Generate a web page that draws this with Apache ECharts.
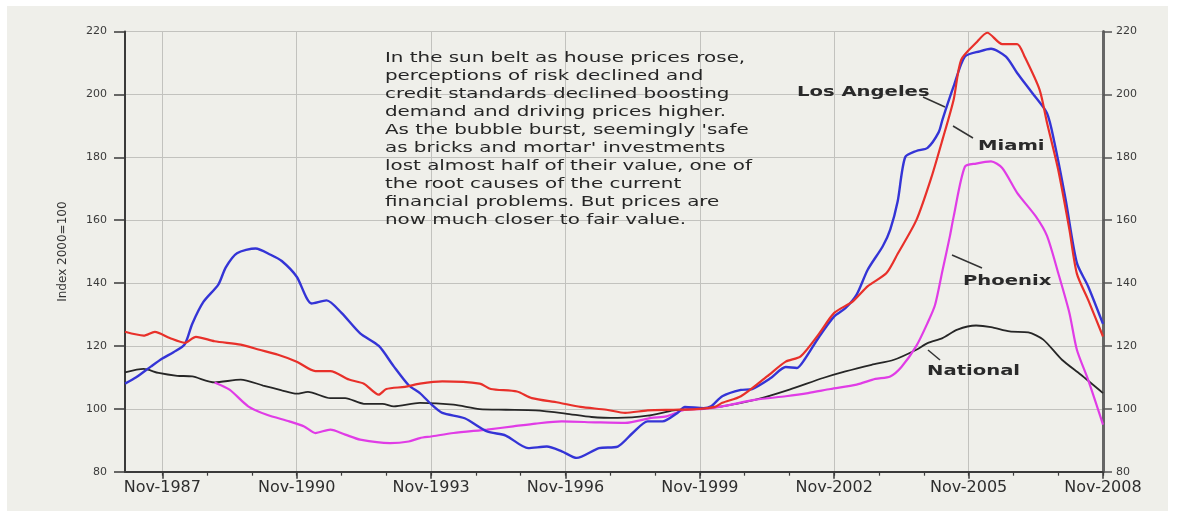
<!DOCTYPE html>
<html>
<head>
<meta charset="utf-8">
<script src="https://cdn.jsdelivr.net/npm/echarts@6/dist/echarts.min.js"></script>
<style>
html,body{margin:0;padding:0;background:#ffffff;}
#chart{width:1179px;height:515px;}
</style>
</head>
<body>
<div id="chart"></div>
<script>
// ---- tick labels ----
const xTickLabels = ['Nov-1987','Nov-1990','Nov-1993','Nov-1996','Nov-1999','Nov-2002','Nov-2005','Nov-2008'];
const yMin = 80, yMax = 220, yStep = 20;
const monthNames = ['Jan','Feb','Mar','Apr','May','Jun','Jul','Aug','Sep','Oct','Nov','Dec'];

// ---- categories: monthly, Jan-1987 .. Nov-2008 ----
const months = [];
for (let y = 1987; y <= 2008; y++) {
  for (let m = 1; m <= 12; m++) {
    if (y === 2008 && m > 11) break;
    months.push(y + '-' + String(m).padStart(2, '0'));
  }
}

// ---- series values (Index 2000=100) ----
const losAngeles = [
  ['1987-01',108],['1987-04',110],['1987-08',113.5],['1987-11',116],['1988-02',118],['1988-05',120.5],
  ['1988-07',127],['1988-10',134],['1989-02',139.5],['1989-04',145],['1989-07',149.5],['1989-12',151],
  ['1990-04',149],['1990-07',147],['1990-11',142],['1991-03',133.5],['1991-07',134.5],['1991-11',130.5],
  ['1992-04',124],['1992-09',120],['1993-01',113.5],['1993-05',107.5],['1993-08',105],['1993-11',101.5],
  ['1994-02',98.7],['1994-08',97],['1995-02',92.8],['1995-07',91.5],['1996-01',87.5],['1996-06',88],
  ['1996-10',86.5],['1997-02',84.4],['1997-08',87.5],['1998-01',88],['1998-05',92.3],['1998-09',96],
  ['1999-01',96],['1999-05',98.7],['1999-07',100.6],['1999-12',100.2],['2000-02',100.8],['2000-05',104],
  ['2000-10',106],['2001-01',106.3],['2001-06',109.8],['2001-10',113.3],['2002-01',113],['2002-03',115.6],
  ['2002-07',123],['2002-11',129.4],['2003-02',132],['2003-05',136.3],['2003-08',144.3],['2003-12',151.7],
  ['2004-02',157],['2004-04',166],['2004-06',180],['2004-09',182],['2004-12',183],['2005-03',188],
  ['2005-04',192],['2005-07',202.6],['2005-10',212],['2006-02',213.7],['2006-05',214.5],['2006-09',212],
  ['2006-12',206.8],['2007-04',200.5],['2007-08',194],['2007-10',184.6],['2008-01',166.5],['2008-04',146.4],
  ['2008-07',139],['2008-11',127]
];
const miami = [
  ['1987-01',124.5],['1987-06',123.3],['1987-09',124.5],['1988-01',122.5],['1988-05',121],['1988-08',122.9],
  ['1989-01',121.5],['1989-08',120.4],['1990-01',118.8],['1990-06',117.2],['1990-11',115],['1991-04',112],
  ['1991-08',112],['1992-01',109.3],['1992-05',108],['1992-09',104.5],['1992-11',106.3],['1993-04',107],
  ['1993-08',108],['1994-02',108.7],['1994-12',108],['1995-03',106.3],['1995-10',105.5],['1996-02',103.4],
  ['1996-09',102],['1997-03',100.6],['1997-10',99.7],['1998-03',98.7],['1998-09',99.5],['1999-04',99.7],
  ['1999-10',99.9],['2000-03',100.6],['2000-05',101.9],['2000-10',104],['2001-05',110.3],['2001-10',115],
  ['2002-02',116.7],['2002-07',124],['2002-11',130.5],['2003-04',134.2],['2003-08',139],['2004-01',143.2],
  ['2004-04',149.3],['2004-09',160],['2005-01',173.5],['2005-04',185.6],['2005-07',198.4],['2005-09',211],
  ['2006-01',216.4],['2006-04',219.6],['2006-08',216],['2006-12',216],['2007-02',212],['2007-06',201.5],
  ['2007-08',191],['2007-11',176],['2008-02',157],['2008-04',143],['2008-07',134.7],['2008-11',123]
];
const phoenix = [
  ['1989-01',108.4],['1989-05',106.1],['1989-10',100.8],['1990-03',98.1],['1990-09',96],['1991-01',94.4],
  ['1991-04',92.3],['1991-08',93.4],['1991-12',91.8],['1992-04',90.2],['1992-12',89.1],['1993-05',89.6],
  ['1993-08',90.7],['1993-11',91.2],['1994-05',92.3],['1995-02',93.4],['1995-09',94.4],['1996-03',95.3],
  ['1996-10',96],['1997-07',95.7],['1998-03',95.5],['1998-10',97.1],['1999-02',97.6],['1999-07',99.7],
  ['1999-12',100],['2000-05',100.8],['2001-02',102.9],['2001-10',104],['2002-04',105],['2002-10',106.3],
  ['2003-05',107.7],['2003-10',109.5],['2004-02',110.3],['2004-05',113.3],['2004-09',120],['2004-12',127.3],
  ['2005-02',133],['2005-04',144],['2005-06',155],['2005-07',161.2],['2005-10',177],['2006-01',178],
  ['2006-05',178.7],['2006-08',176.6],['2006-12',168.7],['2007-05',161.2],['2007-08',155],['2007-11',143.2],
  ['2008-02',130.5],['2008-04',118.8],['2008-07',109.3],['2008-11',95]
];
const national = [
  ['1987-01',111.6],['1987-06',112.7],['1987-10',111.4],['1988-03',110.5],['1988-07',110.3],['1989-01',108.4],
  ['1989-08',109.3],['1990-02',107.4],['1990-07',105.9],['1990-11',104.8],['1991-02',105.4],['1991-08',103.4],
  ['1991-12',103.4],['1992-05',101.6],['1992-10',101.6],['1993-01',100.8],['1993-08',101.9],['1994-05',101.3],
  ['1994-12',99.9],['1995-07',99.7],['1996-03',99.5],['1996-11',98.5],['1997-06',97.4],['1998-01',97.1],
  ['1998-09',97.8],['1999-04',99.5],['1999-10',100],['2000-05',100.8],['2001-02',102.9],['2001-11',106.1],
  ['2002-08',109.8],['2003-02',111.9],['2003-09',114],['2004-03',115.6],['2004-09',118.8],['2004-12',120.9],
  ['2005-04',122.5],['2005-08',125.2],['2006-01',126.5],['2006-05',126],['2006-10',124.6],['2007-03',124.3],
  ['2007-07',122],['2007-12',115.6],['2008-05',110.9],['2008-11',105]
];

const annotation = [
  'In the sun belt as house prices rose,',
  'perceptions of risk declined and',
  'credit standards declined boosting',
  'demand and driving prices higher.',
  "As the bubble burst, seemingly 'safe",
  "as bricks and mortar' investments",
  'lost almost half of their value, one of',
  'the root causes of the current',
  'financial problems. But prices are',
  'now much closer to fair value.'
];

function fmtMonth(v) {
  const p = v.split('-');
  return monthNames[parseInt(p[1], 10) - 1] + '-' + p[0];
}
function isMajor(i, v) { return xTickLabels.indexOf(fmtMonth(v)) >= 0; }
function isYearly(i, v) { return v.slice(5) === '11'; }

const axisDark = '#3a3a3a';
const gridCol = '#c2c2be';
const fontFam = '"DejaVu Sans", sans-serif';

const chart = echarts.init(document.getElementById('chart'), null, {renderer: 'canvas'});

function lbl(text, x, y) {
  return {type: 'text', x: x, y: y, scaleX: 1.4, z: 100, silent: true,
    style: {text: text, x: 0, y: 0, fill: '#2a2a2a', font: 'bold 14px ' + fontFam, textVerticalAlign: 'middle', textAlign: 'left'}};
}
function leader(x1, y1, x2, y2) {
  return {type: 'line', z: 100, silent: true, shape: {x1: x1, y1: y1, x2: x2, y2: y2},
    style: {stroke: '#333', lineWidth: 1.5}};
}

chart.setOption({
  animation: false,
  backgroundColor: '#ffffff',
  grid: {left: 125, right: 76, top: 31.5, bottom: 43.3, containLabel: false},
  graphic: [
    {type: 'rect', z: -100, silent: true, shape: {x: 7, y: 6, width: 1161, height: 505}, style: {fill: '#efefea'}},
    {type: 'text', x: 385, y: 49, scaleX: 1.42, z: 100, silent: true,
      style: {text: annotation.join('\n'), x: 0, y: 0, fill: '#262626', font: '14px ' + fontFam, lineHeight: 18, textVerticalAlign: 'top', textAlign: 'left'}},
    lbl('Los Angeles', 797, 92),
    lbl('Miami', 978, 146),
    lbl('Phoenix', 963, 281),
    lbl('National', 927, 371),
    leader(923, 97, 945, 107),
    leader(953, 126, 973, 138),
    leader(952, 255, 982, 268),
    leader(928, 350, 940, 360)
  ],
  xAxis: [
    {
      type: 'category', data: months, boundaryGap: false,
      axisLine: {show: true, lineStyle: {color: axisDark, width: 2}},
      axisTick: {show: true, interval: isMajor, length: 7, lineStyle: {color: axisDark, width: 1.5}},
      axisLabel: {interval: isMajor, formatter: fmtMonth, color: '#2e2e2e', fontSize: 16, fontFamily: fontFam, margin: 8},
      splitLine: {show: true, interval: isMajor, lineStyle: {color: gridCol, width: 1}}
    },
    {
      type: 'category', data: months, boundaryGap: false, position: 'bottom',
      axisLine: {show: false},
      axisTick: {show: true, interval: isYearly, length: 4, lineStyle: {color: axisDark, width: 1.2}},
      axisLabel: {show: false},
      splitLine: {show: false}
    }
  ],
  yAxis: [
    {
      type: 'value', position: 'left', min: yMin, max: yMax, interval: yStep,
      name: 'Index 2000=100', nameLocation: 'middle', nameGap: 56,
      nameTextStyle: {fontSize: 12, color: '#333', fontFamily: fontFam},
      axisLine: {show: true, lineStyle: {color: axisDark, width: 2}},
      axisTick: {show: true, length: 11, lineStyle: {color: axisDark, width: 1.5}},
      axisLabel: {margin: 18, fontSize: 11, color: '#3a3a3a', fontFamily: fontFam},
      splitLine: {show: true, lineStyle: {color: gridCol, width: 1}}
    },
    {
      type: 'value', position: 'right', min: yMin, max: yMax, interval: yStep,
      axisLine: {show: true, lineStyle: {color: '#666', width: 3}},
      axisTick: {show: true, length: 9, lineStyle: {color: '#555', width: 1.5}},
      axisLabel: {margin: 13, fontSize: 11, color: '#3a3a3a', fontFamily: fontFam},
      splitLine: {show: false}
    }
  ],
  series: [
    {name: 'National', type: 'line', data: national, showSymbol: false, smooth: 0.25, z: 3,
      lineStyle: {color: '#262626', width: 1.8}},
    {name: 'Phoenix', type: 'line', data: phoenix, showSymbol: false, smooth: 0.25, z: 4,
      lineStyle: {color: '#e03ce6', width: 2.2}},
    {name: 'Los Angeles', type: 'line', data: losAngeles, showSymbol: false, smooth: 0.25, z: 5,
      lineStyle: {color: '#3434d6', width: 2.4}},
    {name: 'Miami', type: 'line', data: miami, showSymbol: false, smooth: 0.25, z: 6,
      lineStyle: {color: '#e8302a', width: 2.2}}
  ]
});
</script>
</body>
</html>
